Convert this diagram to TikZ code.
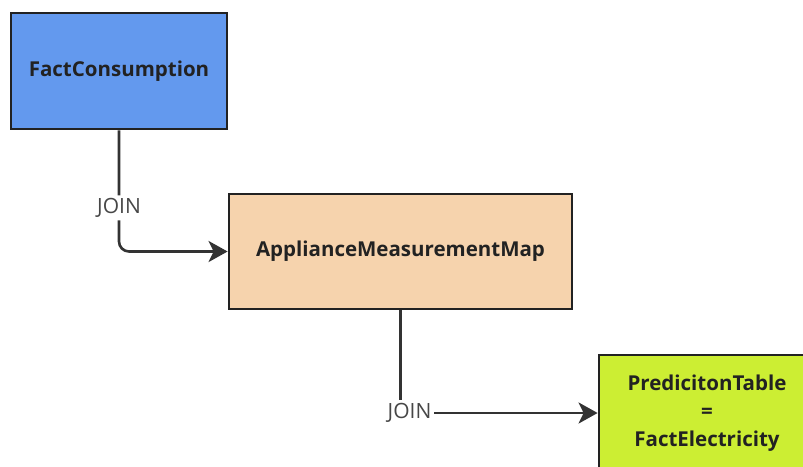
\documentclass[tikz,border=0pt]{standalone}
\usepackage{fontspec}
\setmainfont{Open Sans}
\usepackage{tikz}
\usetikzlibrary{positioning,arrows.meta}

\definecolor{factblue}{HTML}{6399EE}
\definecolor{mappeach}{HTML}{F6D3AD}
\definecolor{predlime}{HTML}{CCEE33}
\definecolor{inkgray}{HTML}{222222}
\definecolor{linegray}{HTML}{333333}

\begin{document}
\begin{tikzpicture}[
  x=1pt, y=-1pt, >={Stealth[length=19pt,width=21pt,inset=5pt]},
  font=\fontsize{21}{28}\selectfont,
  tbl/.style={draw=inkgray, line width=2.8pt, align=center, text=inkgray,
              font=\fontsize{20.5}{28}\selectfont\bfseries, inner sep=0pt},
  fl/.style={->, line width=2.6pt, draw=linegray},
  lbl/.style={fill=white, text=linegray!90, inner sep=3pt},
]
\useasboundingbox (0,0) rectangle (803,466);

\node[tbl, fill=factblue, minimum width=216pt, minimum height=116pt]
  (fact) at (119,71) {FactConsumption};
\node[tbl, fill=mappeach, minimum width=343pt, minimum height=115pt]
  (map) at (400.5,251.5) {ApplianceMeasurementMap};
\node[tbl, fill=predlime, minimum width=216pt, minimum height=116pt]
  (pred) at (707,413) {PredicitonTable\\=\\FactElectricity};

\draw[fl, rounded corners=10pt] (fact.south) |- node[lbl, pos=0.32] {JOIN} (map.west);
\draw[fl] (map.south) |- node[lbl, pos=0.5, xshift=9pt] {JOIN} (pred.west);
\end{tikzpicture}
\end{document}
